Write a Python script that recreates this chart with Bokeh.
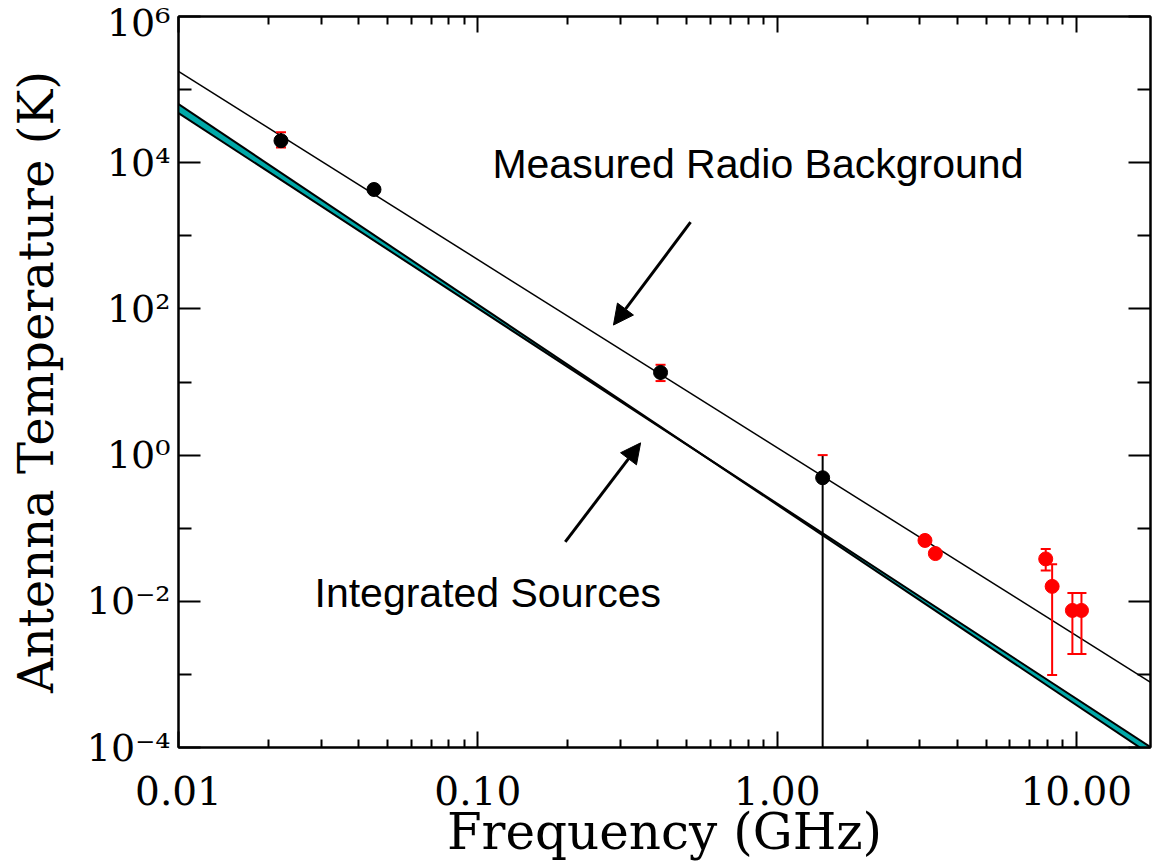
from bokeh.plotting import figure
from bokeh.models import LogAxis, FixedTicker, Arrow, NormalHead, Label
from bokeh.embed import file_html
from bokeh.resources import INLINE

# ---- data ----
freq = [0.022, 0.045, 0.408, 1.42, 3.12, 3.38, 7.9, 8.3, 9.7, 10.4]          # GHz
temp = [2.0e4, 4.3e3, 13.5, 0.49, 0.068, 0.045, 0.038, 0.016, 0.0075, 0.0075]  # K
point_color = ["black", "black", "black", "black", "red", "red", "red", "red", "red", "red"]

err_freq = [0.022, 0.408, 1.42, 3.12, 3.38, 7.9, 8.3, 9.7, 10.4]
err_hi = [2.6e4, 17.2, 1.0, 0.072, 0.047, 0.052, 0.032, 0.013, 0.013]
err_lo = [1.62e4, 10.3, 1e-5, 0.064, 0.043, 0.0264, 0.00098, 0.0019, 0.0019]
err_color = ["black", "black", "black", "red", "red", "red", "red", "red", "red"]

# measured radio background power law (end points)
bg_freq = [0.01, 20.0]
bg_temp = [1.77e5, 5.7e-4]

# integrated sources band (two power laws)
src_freq = [0.01, 20.0]
src_upper = [6.32e4, 5.7e-5]
src_lower = [4.78e4, 7.3e-5]

x_ticks = [0.01, 0.1, 1.0, 10.0]
x_tick_labels = ["0.01", "0.10", "1.00", "10.00"]
x_minor = [0.02, 0.03, 0.04, 0.05, 0.06, 0.07, 0.08, 0.09,
           0.2, 0.3, 0.4, 0.5, 0.6, 0.7, 0.8, 0.9,
           2.0, 3.0, 4.0, 5.0, 6.0, 7.0, 8.0, 9.0]
y_ticks = [1e-4, 1e-2, 1.0, 1e2, 1e4, 1e6]
y_tick_labels = ["10⁻⁴", "10⁻²", "10⁰", "10²", "10⁴", "10⁶"]
y_minor = [1e-3, 1e-1, 1e1, 1e3, 1e5]

ann_text = ["Measured Radio Background", "Integrated Sources"]
ann_x = [0.1119, 0.02847]
ann_y = [9730.0, 0.0131]

arrow_start_x = [0.514, 0.196]
arrow_start_y = [1535.0, 0.065]
arrow_end_x = [0.284, 0.350]
arrow_end_y = [60.1, 1.47]

# ---- figure ----
p = figure(width=1157, height=863, x_axis_type="log", y_axis_type="log",
           x_range=(0.01, 17.69), y_range=(1e-4, 1e6),
           output_backend="svg", toolbar_location=None,
           min_border_left=178, min_border_right=7, min_border_top=16, min_border_bottom=115,
           background_fill_color="white", border_fill_color="white")
p.grid.visible = False
p.outline_line_color = "black"
p.outline_line_width = 2

serif = "DejaVu Serif"

xt = FixedTicker(ticks=x_ticks, minor_ticks=x_minor)
yt = FixedTicker(ticks=y_ticks, minor_ticks=y_minor)

for ax in p.xaxis:
    ax.ticker = xt
    ax.major_label_overrides = dict(zip(x_ticks, x_tick_labels))
    ax.axis_label = "Frequency (GHz)"
for ax in p.yaxis:
    ax.ticker = yt
    ax.major_label_overrides = dict(zip(y_ticks, y_tick_labels))
    ax.axis_label = "Antenna Temperature (K)"

def style_axis(ax, major_in, minor_in, labels=True):
    ax.axis_line_color = "black"
    ax.axis_line_width = 2
    ax.major_tick_in = major_in
    ax.major_tick_out = 0
    ax.minor_tick_in = minor_in
    ax.minor_tick_out = 0
    ax.major_tick_line_width = 2
    ax.minor_tick_line_width = 2
    ax.major_tick_line_color = "black"
    ax.minor_tick_line_color = "black"
    if labels:
        ax.major_label_text_font = serif
        ax.major_label_text_color = "black"
        ax.axis_label_text_font = serif
        ax.axis_label_text_font_style = "normal"
        ax.axis_label_text_color = "black"
    else:
        ax.major_label_text_font_size = "1px"
        ax.major_label_text_alpha = 0
        ax.major_label_standoff = 0

for ax in p.xaxis:
    style_axis(ax, 16, 8)
    ax.major_label_text_font_size = "39px"
    ax.axis_label_text_font_size = "50px"
    ax.major_label_standoff = 28
    ax.axis_label_standoff = -5
for ax in p.yaxis:
    style_axis(ax, 22, 13)
    ax.major_label_text_font_size = "38px"
    ax.axis_label_text_font_size = "48px"
    ax.major_label_standoff = 8
    ax.axis_label_standoff = 20

top = LogAxis(ticker=xt)
style_axis(top, 16, 8, labels=False)
p.add_layout(top, "above")
right = LogAxis(ticker=yt)
style_axis(right, 22, 13, labels=False)
p.add_layout(right, "right")

# ---- glyphs ----
p.varea(x=src_freq, y1=src_upper, y2=src_lower, fill_color="#00a8a8")
p.line(src_freq, src_upper, line_color="black", line_width=2)
p.line(src_freq, src_lower, line_color="black", line_width=2)

p.line(bg_freq, bg_temp, line_color="black", line_width=1.5)

p.segment(x0=err_freq, y0=err_lo, x1=err_freq, y1=err_hi, line_color=err_color, line_width=2)
p.scatter(x=err_freq, y=err_hi, marker="dash", size=10, line_color="red", line_width=2)
p.scatter(x=err_freq, y=err_lo, marker="dash", size=10, line_color="red", line_width=2)

p.scatter(x=freq, y=temp, size=14, fill_color=point_color, line_color=point_color)

# ---- annotations ----
for t, x, y in zip(ann_text, ann_x, ann_y):
    p.add_layout(Label(x=x, y=y, text=t, text_font="Liberation Sans",
                       text_font_size="41px", text_color="black",
                       text_align="left", text_baseline="alphabetic"))

for xs, ys, xe, ye in zip(arrow_start_x, arrow_start_y, arrow_end_x, arrow_end_y):
    p.add_layout(Arrow(x_start=xs, y_start=ys, x_end=xe, y_end=ye,
                       line_color="black", line_width=3,
                       end=NormalHead(size=20, fill_color="black", line_color="black")))

open("out.html", "w").write(file_html(p, INLINE))
